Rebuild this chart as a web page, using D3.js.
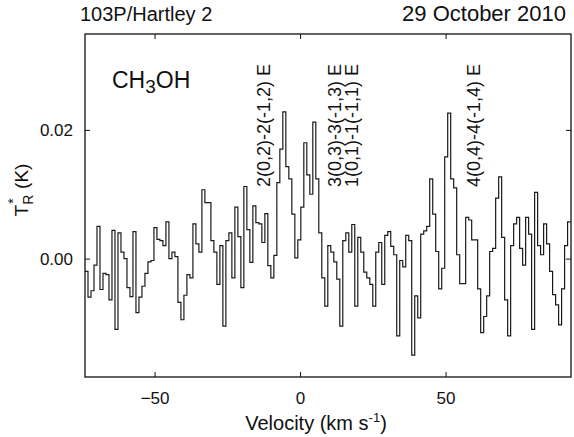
<!DOCTYPE html>
<html lang="en">
<head>
<meta charset="UTF-8" />
<title>CH3OH 103P/Hartley 2</title>
<script src="https://cdn.jsdelivr.net/npm/d3@7"></script>
<style>
  body { margin: 0; background: #fff; }
  text { font-family: "Liberation Sans", Arial, sans-serif; fill: #111; }
</style>
</head>
<body>
<script>
  // header texts
  let titleLeft = "103P/Hartley 2";
  let titleRight = "29 October 2010";

  // spectrum: first channel velocity, channel width (km/s), T_R* in mK
  let velStart = -73.9;
  let chanWidth = 1.03;
  let trMilliK = [
    -2, -6, -5, -1, 5, -4.8, -2.3, -2.5, -6.4, 4.4,
    -11, 4, 1, 0, -4.5, -5.9, 4.2, -8.4, -6, -4.3,
    -2.3, -0.5, -0.3, 4.8, 3, 2.8, 2, 5.7, 0, 1,
    0.3, -6.8, -9.5, -5.7, -2.5, -3, 5.4, 2.3, 1, 10.7,
    8.7, 8.7, 2.8, 1, -4, 2, -10.5, 2.8, 4, -3,
    8, 3.4, -4.5, 11.2, 4.5, -0.6, 8.2, 5.6, 5.4, 2.5,
    7, -1.1, -3, 0.5, 11.8, 17, 22.8, 14.3, 12.4, 6.9,
    0.1, 2.9, 8, 18, 13, 10, 21.2, 12.4, 4, -3,
    -7.4, 2, 1, -0.5, -3.2, -10.5, 2.8, 4, 1, 5.3,
    -7.4, 3.3, 1, -2.1, -3, -4, -7.4, 1, 2.5, -4,
    3.6, 4.2, 1.9, 0.6, -12, -0.3, -1.3, 3.6, 2.8, -15,
    -5.8, -9.2, 3.8, 4.3, 5, 12.4, 6.9, 1.1, -4.7, -1.5,
    15.8, 22.6, 12.4, 11, 0.6, -3.9, -3.9, 6.4, 6, 2.9,
    2.9, -4.7, -11.5, -9, -5.8, 1.1, 1.6, 9.4, 12.7, 3.3,
    -6.4, -12, 2, 5.4, 6.4, 1.6, -1, 6.4, 3.8, -11,
    10.3, 2, 0.6, 5.4, 2.3, -2, -5.6, -7.2, -10.3, -4.7,
    2, 5.7
  ];

  // line identifications and the velocity they are written at
  let lineNames = ["2(0,2)-2(-1,2) E", "3(0,3)-3(-1,3) E", "1(0,1)-1(-1,1) E", "4(0,4)-4(-1,4) E"];
  let lineVel = [-10.3, 14.2, 19.9, 62.0];

  let xTicks = [-50, 0, 50];
  let yTicks = [0, 0.02];
  let xDomain = [-73.9, 93.1];
  let yDomain = [-0.0184, 0.0349];

  let W = 574, H = 437;
  let pL = 85, pR = 571, pT = 34, pB = 377;

  let svg = d3.select("body").append("svg")
    .attr("width", W)
    .attr("height", H);

  let x = d3.scaleLinear().domain(xDomain).range([pL, pR]);
  let y = d3.scaleLinear().domain(yDomain).range([pB, pT]);

  let spec = trMilliK.map(function (d, i) {
    return { v: velStart + i * chanWidth, t: d / 1000 };
  });
  // close the last channel
  spec.push({ v: velStart + trMilliK.length * chanWidth, t: trMilliK[trMilliK.length - 1] / 1000 });

  svg.append("clipPath").attr("id", "plot")
    .append("rect")
    .attr("x", pL).attr("y", pT)
    .attr("width", pR - pL).attr("height", pB - pT);

  let line = d3.line()
    .x(function (d) { return x(d.v); })
    .y(function (d) { return y(d.t); })
    .curve(d3.curveStepAfter);

  svg.append("path")
    .datum(spec)
    .attr("clip-path", "url(#plot)")
    .attr("fill", "none")
    .attr("stroke", "#1a1a1a")
    .attr("stroke-width", 1.2)
    .attr("d", line);

  // axes, ticks pointing inwards on all four sides
  let tk = 5;
  svg.append("g").attr("transform", "translate(0," + pB + ")")
    .call(d3.axisBottom(x).tickValues(xTicks).tickSizeInner(-tk).tickSizeOuter(0)
      .tickPadding(tk + 10).tickFormat(d3.format("d")));
  svg.append("g").attr("transform", "translate(0," + pT + ")")
    .call(d3.axisTop(x).tickValues(xTicks).tickSizeInner(-tk).tickSizeOuter(0).tickFormat(""));
  svg.append("g").attr("transform", "translate(" + pL + ",0)")
    .call(d3.axisLeft(y).tickValues(yTicks).tickSizeInner(-tk).tickSizeOuter(0)
      .tickPadding(tk + 7).tickFormat(d3.format(".2f")));
  svg.append("g").attr("transform", "translate(" + pR + ",0)")
    .call(d3.axisRight(y).tickValues(yTicks).tickSizeInner(-tk).tickSizeOuter(0).tickFormat(""));

  svg.selectAll(".domain").remove();
  svg.selectAll(".tick line").attr("stroke", "#111").attr("stroke-width", 1);
  svg.selectAll(".tick text").attr("font-size", 17).attr("fill", "#111")
    .style("font-family", "'Liberation Sans', Arial, sans-serif");

  svg.append("rect")
    .attr("x", pL).attr("y", pT)
    .attr("width", pR - pL).attr("height", pB - pT)
    .attr("fill", "none")
    .attr("stroke", "#111")
    .attr("stroke-width", 1.3);

  // titles
  svg.append("text").attr("x", 80).attr("y", 21)
    .attr("font-size", 20).text(titleLeft);
  svg.append("text").attr("x", 566).attr("y", 21)
    .attr("font-size", 22).attr("text-anchor", "end")
    .text(titleRight);

  // molecule
  let mol = svg.append("text").attr("x", 112).attr("y", 88).attr("font-size", 23);
  mol.append("tspan").text("CH");
  mol.append("tspan").attr("dy", 5).attr("font-size", 19).text("3");
  mol.append("tspan").attr("dy", -5).text("OH");

  // line labels, written bottom to top
  svg.selectAll(".lbl")
    .data(lineNames)
    .enter()
    .append("text")
    .attr("class", "lbl")
    .attr("font-size", 18)
    .attr("transform", function (d, i) {
      return "translate(" + x(lineVel[i]) + ",187) rotate(-90)";
    })
    .text(function (d) { return d; });

  // axis titles
  let xl = svg.append("text").attr("x", 316).attr("y", 430)
    .attr("font-size", 20).attr("text-anchor", "middle");
  xl.append("tspan").text("Velocity (km s");
  xl.append("tspan").attr("dy", -8).attr("font-size", 13).text("-1");
  xl.append("tspan").attr("dy", 8).text(")");

  let yl = svg.append("text")
    .attr("transform", "translate(28,190) rotate(-90)")
    .attr("font-size", 19).attr("text-anchor", "middle");
  yl.append("tspan").text("T");
  yl.append("tspan").attr("dy", 5).attr("font-size", 14).text("R");
  yl.append("tspan").attr("dx", -9).attr("dy", -15).attr("font-size", 14).text("*");
  yl.append("tspan").attr("dx", 4).attr("dy", 10).text(" (K)");
</script>
</body>
</html>
